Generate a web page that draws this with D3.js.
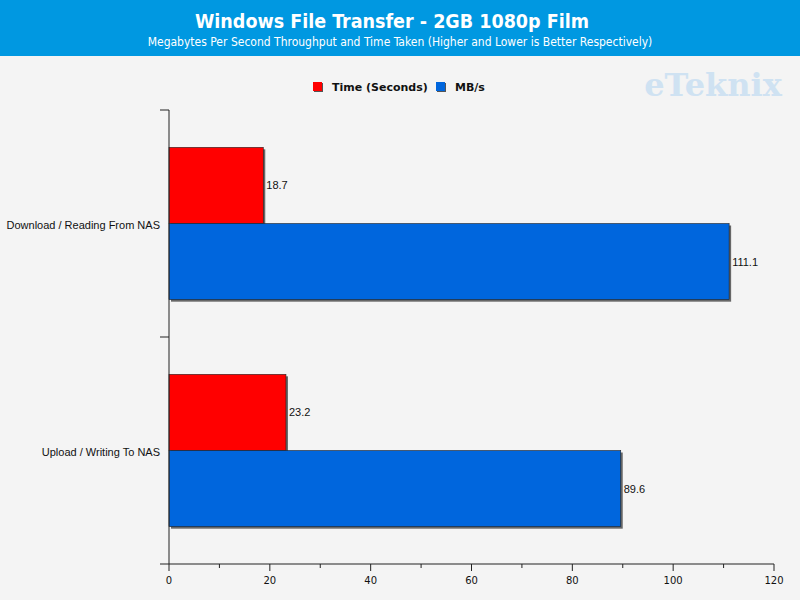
<!DOCTYPE html>
<html>
<head>
<meta charset="utf-8">
<script src="https://cdn.jsdelivr.net/npm/d3@7"></script>
<style>
  body { margin: 0; background: #f4f4f4; }
  text { font-family: "DejaVu Sans", Verdana, sans-serif; }
</style>
</head>
<body>
<div id="chart"></div>
<script>
var categories = ["Download / Reading From NAS", "Upload / Writing To NAS"];
var seriesNames = ["Time (Seconds)", "MB/s"];
var timeSeconds = [18.7, 23.2];
var mbPerSec = [111.1, 89.6];
var xTicks = [0, 20, 40, 60, 80, 100, 120];

var colors = ["#ff0000", "#0066dd"];

var width = 800,
    height = 600;

var svg = d3.select("#chart")
    .append("svg")
    .attr("width", width)
    .attr("height", height);

svg.append("rect")
    .attr("width", width)
    .attr("height", height)
    .attr("fill", "#f4f4f4");

// header band
svg.append("rect")
    .attr("width", width)
    .attr("height", 56)
    .attr("fill", "#0098e1");

svg.append("text")
    .attr("x", 392)
    .attr("y", 28)
    .attr("text-anchor", "middle")
    .attr("fill", "white")
    .style("font-size", "19.5px")
    .style("font-weight", "bold")
    .style("font-family", "'DejaVu Sans Condensed', 'DejaVu Sans', sans-serif")
    .text("Windows File Transfer - 2GB 1080p Film");

svg.append("text")
    .attr("x", 400)
    .attr("y", 46)
    .attr("text-anchor", "middle")
    .attr("fill", "white")
    .style("font-size", "12px")
    .style("font-family", "'DejaVu Sans Condensed', 'DejaVu Sans', sans-serif")
    .text("Megabytes Per Second Throughput and Time Taken (Higher and Lower is Better Respectively)");

// watermark
svg.append("text")
    .attr("x", 713)
    .attr("y", 96)
    .attr("text-anchor", "middle")
    .attr("fill", "#cfe2f2")
    .style("font-size", "32px")
    .style("font-weight", "bold")
    .style("font-family", "'DejaVu Serif', serif")
    .text("eTeknix");

// legend
var legend = svg.append("g").attr("transform", "translate(313,87)");
var legendX = [0, 123];
seriesNames.forEach(function (name, i) {
    var g = legend.append("g").attr("transform", "translate(" + legendX[i] + ",0)");
    g.append("rect")
        .attr("x", 1).attr("y", -4)
        .attr("width", 9).attr("height", 9)
        .attr("fill", "#555");
    g.append("rect")
        .attr("x", 0).attr("y", -5)
        .attr("width", 9).attr("height", 9)
        .attr("fill", colors[i]);
    g.append("text")
        .attr("x", 19)
        .attr("y", 4)
        .style("font-size", "11px")
        .style("font-weight", "bold")
        .attr("fill", "#111")
        .text(name);
});

var margin = { left: 169, right: 26, top: 110, bottom: 36 };

var x = d3.scaleLinear()
    .domain([0, 120])
    .range([margin.left, width - margin.right]);

var y = d3.scaleBand()
    .domain(categories)
    .range([margin.top, height - margin.bottom]);

var inner = d3.scaleBand()
    .domain(seriesNames)
    .range([0, y.bandwidth()])
    .paddingOuter(0.49);

var rows = categories.map(function (c, i) {
    return [
        { cat: c, series: seriesNames[0], value: timeSeconds[i], color: colors[0] },
        { cat: c, series: seriesNames[1], value: mbPerSec[i], color: colors[1] }
    ];
});
var bars = [].concat.apply([], rows);

var plot = svg.append("g");

// shadows
plot.selectAll("rect.shadow")
    .data(bars)
    .enter().append("rect")
    .attr("class", "shadow")
    .attr("x", x(0) + 2)
    .attr("y", function (d) { return y(d.cat) + inner(d.series) + 2; })
    .attr("width", function (d) { return x(d.value) - x(0); })
    .attr("height", inner.bandwidth())
    .attr("fill", "#444")
    .attr("opacity", 0.8);

plot.selectAll("rect.bar")
    .data(bars)
    .enter().append("rect")
    .attr("class", "bar")
    .attr("x", x(0))
    .attr("y", function (d) { return y(d.cat) + inner(d.series); })
    .attr("width", function (d) { return x(d.value) - x(0); })
    .attr("height", inner.bandwidth())
    .attr("fill", function (d) { return d.color; })
    .attr("stroke", "#222")
    .attr("stroke-width", 0.6);

plot.selectAll("text.val")
    .data(bars)
    .enter().append("text")
    .attr("class", "val")
    .attr("x", function (d) { return x(d.value) + 3; })
    .attr("y", function (d) { return y(d.cat) + inner(d.series) + inner.bandwidth() / 2 + 4; })
    .style("font-size", "11px")
    .style("font-family", "'Liberation Sans', Arial, sans-serif")
    .attr("fill", "#111")
    .text(function (d) { return d.value.toFixed(1); });

// x axis
var xAxis = svg.append("g")
    .attr("transform", "translate(0," + (height - margin.bottom) + ")");
xAxis.append("line")
    .attr("x1", margin.left - 9).attr("x2", x(120))
    .attr("stroke", "#222");
xAxis.selectAll("line.minor")
    .data(d3.range(10, 120, 20))
    .enter().append("line")
    .attr("x1", function (d) { return x(d); })
    .attr("x2", function (d) { return x(d); })
    .attr("y2", 4)
    .attr("stroke", "#222");
xAxis.selectAll("line.major")
    .data(xTicks)
    .enter().append("line")
    .attr("x1", function (d) { return x(d); })
    .attr("x2", function (d) { return x(d); })
    .attr("y2", 7)
    .attr("stroke", "#222");
xAxis.selectAll("text")
    .data(xTicks)
    .enter().append("text")
    .attr("x", function (d) { return x(d); })
    .attr("y", 20)
    .attr("text-anchor", "middle")
    .style("font-size", "10px")
    .attr("fill", "#111")
    .text(function (d) { return d; });

// y axis
var yAxis = svg.append("g");
yAxis.append("line")
    .attr("x1", margin.left).attr("x2", margin.left)
    .attr("y1", margin.top).attr("y2", height - margin.bottom)
    .attr("stroke", "#222");
yAxis.selectAll("line.tick")
    .data(categories)
    .enter().append("line")
    .attr("x1", margin.left - 9).attr("x2", margin.left)
    .attr("y1", function (d) { return y(d); })
    .attr("y2", function (d) { return y(d); })
    .attr("stroke", "#222");
yAxis.selectAll("text")
    .data(categories)
    .enter().append("text")
    .attr("x", margin.left - 9)
    .attr("y", function (d) { return y(d) + y.bandwidth() / 2 + 5; })
    .attr("text-anchor", "end")
    .style("font-size", "11px")
    .style("font-family", "'Liberation Sans', Arial, sans-serif")
    .attr("fill", "#111")
    .text(function (d) { return d; });
</script>
</body>
</html>
